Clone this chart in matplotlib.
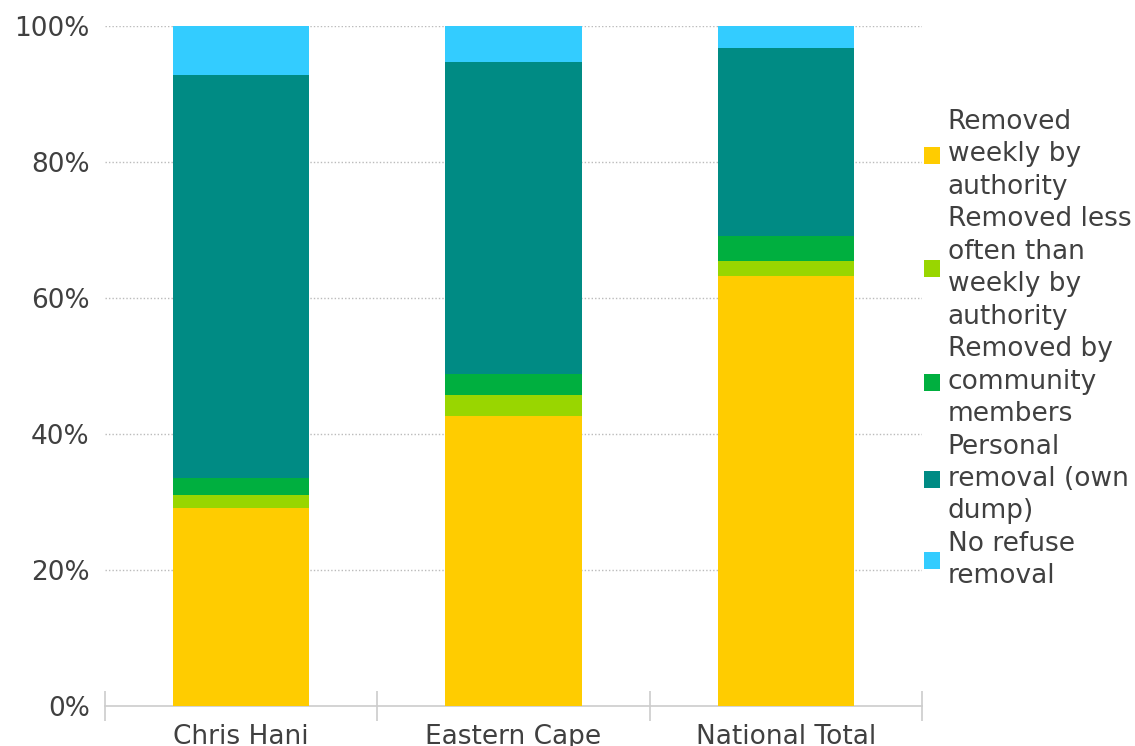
import numpy as np
import matplotlib.pyplot as plt
from matplotlib.ticker import FixedLocator

categories = ["Chris Hani", "Eastern Cape", "National Total"]
series_names = [
    "Removed\nweekly by\nauthority",
    "Removed less\noften than\nweekly by\nauthority",
    "Removed by\ncommunity\nmembers",
    "Personal\nremoval (own\ndump)",
    "No refuse\nremoval",
]
weekly = [29.1, 42.7, 63.3]
less_often = [1.9, 3.1, 2.1]
community = [2.6, 3.0, 3.7]
own_dump = [59.2, 45.9, 27.6]
no_removal = [7.2, 5.3, 3.3]
y_ticks = [0, 20, 40, 60, 80, 100]

colors = ["#FFCC00", "#99D600", "#00AF3F", "#008B84", "#33CCFF"]
text_color = "#404040"
fs = 19

series = [weekly, less_often, community, own_dump, no_removal]

fig = plt.figure(figsize=(11.35, 7.46), dpi=100)
ax = fig.add_axes([105 / 1135, 1 - 706 / 746, 817 / 1135, 680 / 746])

x = np.arange(len(categories))
bottom = np.zeros(len(categories))
for vals, name, col in zip(series, series_names, colors):
    ax.bar(x, vals, width=0.5, bottom=bottom, color=col, label=name,
           edgecolor="none", zorder=3)
    bottom += np.array(vals)

ax.set_xlim(-0.5, 2.5)
ax.set_ylim(0, 100)

ax.set_yticks(y_ticks)
ax.set_yticklabels([f"{v}%" for v in y_ticks])
ax.tick_params(axis="y", length=0, pad=11, labelsize=fs, labelcolor=text_color)

ax.set_xticks(x)
ax.set_xticklabels(categories)
ax.tick_params(axis="x", which="major", length=0, pad=13, labelsize=fs,
               labelcolor=text_color)
ax.xaxis.set_minor_locator(FixedLocator([-0.5, 0.5, 1.5, 2.5]))
ax.tick_params(axis="x", which="minor", length=21, direction="inout",
               color="#cccccc", width=1.2)

for yv in y_ticks[1:]:
    ax.axhline(yv, color="#bbbbbb", linestyle=(0, (1, 1.5)), linewidth=1, zorder=1)

for s in ["top", "right", "left"]:
    ax.spines[s].set_visible(False)
ax.spines["bottom"].set_color("#cccccc")
ax.spines["bottom"].set_linewidth(1.2)

leg = fig.legend(loc="upper left", bbox_to_anchor=(924 / 1135, 1 - 109 / 746),
                 frameon=False, fontsize=fs, handlelength=0.62, handleheight=0.62,
                 handletextpad=0.28, labelspacing=0.25, borderpad=0, borderaxespad=0,
                 labelcolor=text_color)
for t in leg.get_texts():
    t.set_linespacing(1.32)

fig.savefig("out.png", dpi=100)
